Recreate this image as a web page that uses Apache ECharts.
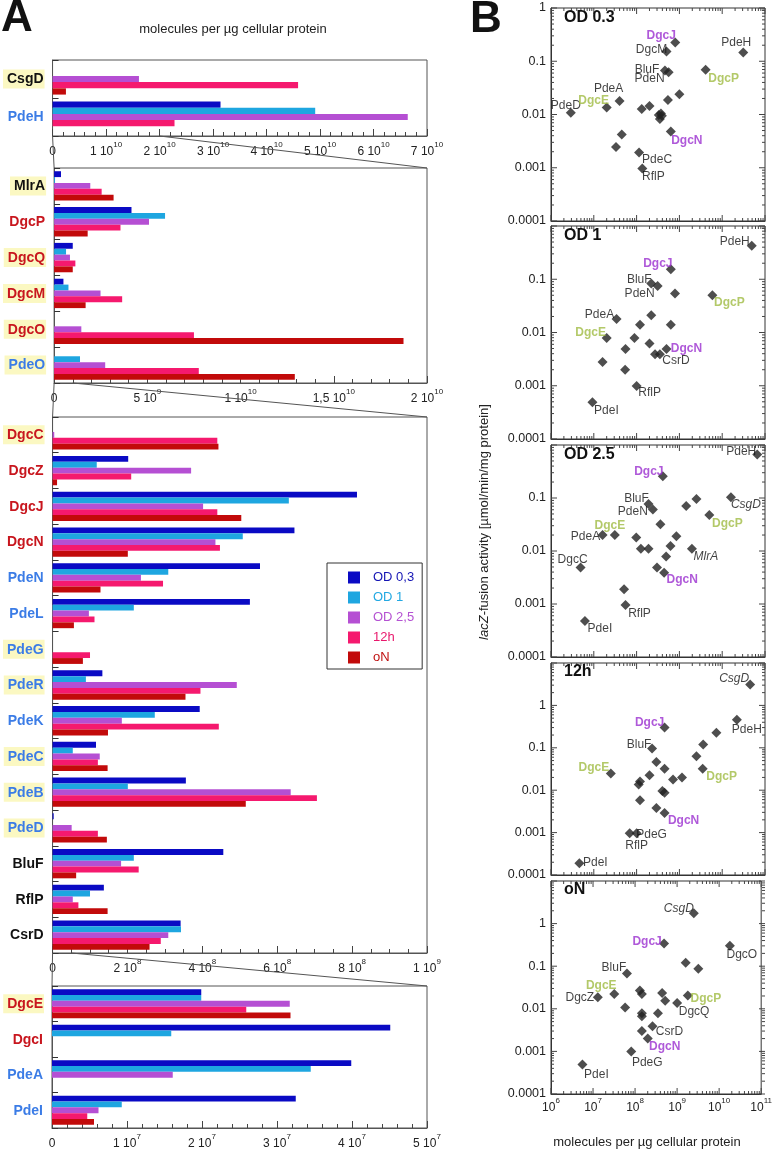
<!DOCTYPE html>
<html><head><meta charset="utf-8">
<script src="https://cdn.jsdelivr.net/npm/echarts@6/dist/echarts.min.js"></script>
<style>html,body{margin:0;padding:0;background:#fff}#c{width:775px;height:1151px}</style>
</head><body><div id="c"></div>
<script>
// ---------------- DATA ----------------
const seriesNames = ['OD 0,3', 'OD 1', 'OD 2,5', '12h', 'oN'];

// Panel A, section 1 (0 .. 7e10)
const sec1Cats = ['CsgD', 'PdeH'];
const sec1OD03 = [0, 3.14e10];
const sec1OD1  = [0, 4.91e10];
const sec1OD25 = [1.615e10, 6.64e10];
const sec112h  = [4.59e10, 2.28e10];
const sec1oN   = [0.25e10, 0];
const sec1Ticks = ['0', '1 10^10', '2 10^10', '3 10^10', '4 10^10', '5 10^10', '6 10^10', '7 10^10'];

// section 2 (0 .. 2e10)
const sec2Cats = ['MlrA', 'DgcP', 'DgcQ', 'DgcM', 'DgcO', 'PdeO'];
const sec2OD03 = [0.37e9, 4.15e9, 1.0e9, 0.5e9, 0, 0];
const sec2OD1  = [0.05e9, 5.95e9, 0.64e9, 0.77e9, 0, 1.39e9];
const sec2OD25 = [1.94e9, 5.09e9, 0.85e9, 2.49e9, 1.46e9, 2.74e9];
const sec212h  = [2.55e9, 3.56e9, 1.14e9, 3.65e9, 7.5e9, 7.76e9];
const sec2oN   = [3.19e9, 1.8e9, 1.0e9, 1.69e9, 18.74e9, 12.91e9];
const sec2Ticks = ['0', '5 10^9', '1 10^10', '1,5 10^10', '2 10^10'];

// section 3 (0 .. 1e9)
const sec3Cats = ['DgcC', 'DgcZ', 'DgcJ', 'DgcN', 'PdeN', 'PdeL', 'PdeG', 'PdeR', 'PdeK', 'PdeC', 'PdeB', 'PdeD', 'BluF', 'RflP', 'CsrD'];
const sec3OD03 = [0, 2.02e8, 8.13e8, 6.46e8, 5.54e8, 5.27e8, 0, 1.33e8, 3.93e8, 1.16e8, 3.56e8, 0.03e8, 4.56e8, 1.37e8, 3.42e8];
const sec3OD1  = [0, 1.18e8, 6.31e8, 5.08e8, 3.09e8, 2.17e8, 0, 0.89e8, 2.73e8, 0.54e8, 2.01e8, 0, 2.17e8, 1.0e8, 3.43e8];
const sec3OD25 = [0.045e8, 3.7e8, 4.02e8, 4.35e8, 2.36e8, 0.97e8, 0, 4.92e8, 1.85e8, 1.26e8, 6.36e8, 0.51e8, 1.83e8, 0.54e8, 3.09e8];
const sec312h  = [4.4e8, 2.1e8, 4.4e8, 4.47e8, 2.95e8, 1.12e8, 1.0e8, 3.95e8, 4.44e8, 1.21e8, 7.06e8, 1.21e8, 2.3e8, 0.69e8, 2.89e8];
const sec3oN   = [4.43e8, 0.12e8, 5.04e8, 2.01e8, 1.28e8, 0.57e8, 0.81e8, 3.55e8, 1.48e8, 1.47e8, 5.16e8, 1.45e8, 0.63e8, 1.47e8, 2.59e8];
const sec3Ticks = ['0', '2 10^8', '4 10^8', '6 10^8', '8 10^8', '1 10^9'];

// section 4 (0 .. 5e7)
const sec4Cats = ['DgcE', 'DgcI', 'PdeA', 'PdeI'];
const sec4OD03 = [1.99e7, 4.51e7, 3.99e7, 3.25e7];
const sec4OD1  = [1.99e7, 1.59e7, 3.45e7, 0.93e7];
const sec4OD25 = [3.17e7, 0, 1.61e7, 0.62e7];
const sec412h  = [2.59e7, 0, 0, 0.47e7];
const sec4oN   = [3.18e7, 0, 0, 0.56e7];
const sec4Ticks = ['0', '1 10^7', '2 10^7', '3 10^7', '4 10^7', '5 10^7'];

// Panel B scatter: [molecules per ug, lacZ activity, label]
const scOD03 = [[2.9e6,0.0108,'PdeD'],[2.0e7,0.0136,'DgcE'],[4.0e7,0.018,'PdeA'],[3.3e7,0.00245,''],[4.5e7,0.0042,''],
  [1.32e8,0.0127,''],[2.0e8,0.0145,''],[1.14e8,0.00193,'PdeC'],[1.36e8,0.00097,'RflP'],[3.3e8,0.0098,''],[3.9e8,0.0095,''],
  [3.5e8,0.0082,''],[3.7e8,0.0104,''],[5.0e8,0.153,'DgcM'],[8.0e8,0.225,'DgcJ'],[4.6e8,0.067,'BluF'],[5.6e8,0.062,'PdeN'],
  [5.4e8,0.0187,''],[1.0e9,0.024,''],[6.3e8,0.0048,'DgcN'],[4.1e9,0.069,'DgcP'],[3.1e10,0.146,'PdeH']];
const scOD1 = [[4.9e10,0.425,'PdeH'],[6.3e8,0.154,'DgcJ'],[2.2e8,0.083,'BluF'],[3.1e8,0.075,'PdeN'],[7.9e8,0.054,''],
  [5.9e9,0.05,'DgcP'],[3.4e7,0.018,'PdeA'],[2.0e7,0.0079,'DgcE'],[1.2e8,0.014,''],[2.2e8,0.021,''],[6.3e8,0.014,''],
  [8.9e7,0.0079,''],[5.5e7,0.0049,''],[2.0e8,0.0062,''],[2.7e8,0.0039,''],[3.5e8,0.0039,'CsrD'],[5.0e8,0.0049,'DgcN'],
  [1.6e7,0.0028,''],[5.4e7,0.0020,''],[1.0e8,0.00099,'RflP'],[9.3e6,0.00049,'PdeI']];
const scOD25 = [[6.6e10,0.665,'PdeH'],[4.1e8,0.258,'DgcJ'],[1.9e8,0.077,'BluF'],[2.4e8,0.061,'PdeN'],[3.6e8,0.032,''],
  [1.44e9,0.071,''],[2.5e9,0.096,''],[1.6e10,0.103,'CsgD'],[5.0e9,0.048,'DgcP'],[1.6e7,0.020,'PdeA'],[3.1e7,0.020,'DgcE'],
  [9.8e7,0.018,''],[1.26e8,0.011,''],[1.9e8,0.011,''],[8.5e8,0.019,''],[6.2e8,0.0124,''],[1.96e9,0.011,'MlrA'],
  [4.9e8,0.0079,''],[3.0e8,0.0049,''],[4.4e8,0.0039,'DgcN'],[4.9e6,0.0049,'DgcC'],[5.1e7,0.0019,''],[5.5e7,0.00096,'RflP'],
  [6.2e6,0.00048,'PdeI']];
const sc12h = [[4.5e10,3.1,'CsgD'],[2.2e10,0.46,'PdeH'],[7.3e9,0.227,''],[3.6e9,0.119,''],[2.5e9,0.063,''],[3.5e9,0.032,'DgcP'],
  [4.5e8,0.30,'DgcJ'],[2.3e8,0.096,'BluF'],[2.9e8,0.046,''],[4.5e8,0.032,''],[2.0e8,0.0225,''],[7.1e8,0.018,''],[1.15e9,0.020,''],
  [1.2e8,0.016,''],[1.12e8,0.0136,''],[4.0e8,0.0096,''],[4.5e8,0.0087,''],[1.2e8,0.0058,''],[2.9e8,0.0038,''],[4.5e8,0.0029,'DgcN'],
  [2.5e7,0.0246,'DgcE'],[6.9e7,0.00096,'RflP'],[1.0e8,0.00096,'PdeG'],[4.6e6,0.00019,'PdeI']];
const scON = [[2.5e9,1.74,'CsgD'],[4.9e8,0.34,'DgcJ'],[1.8e10,0.30,'DgcO'],[1.6e9,0.121,''],[3.2e9,0.087,''],[6.4e7,0.067,'BluF'],
  [3.2e7,0.0224,'DgcE'],[1.3e7,0.0187,'DgcZ'],[1.3e8,0.027,''],[1.45e8,0.0224,''],[4.4e8,0.0236,''],[5.2e8,0.0154,''],
  [1.0e9,0.0136,'DgcQ'],[1.8e9,0.0205,'DgcP'],[5.8e7,0.0107,''],[1.45e8,0.0079,''],[1.45e8,0.0067,''],[3.5e8,0.0079,''],
  [2.6e8,0.0039,'CsrD'],[1.45e8,0.0030,''],[2.0e8,0.0020,'DgcN'],[8.1e7,0.001,'PdeG'],[5.6e6,0.00049,'PdeI']];

const scXTicks = ['10^6', '10^7', '10^8', '10^9', '10^10', '10^11'];
const scYTicks = ['0.0001', '0.001', '0.01', '0.1', '1', '10'];
const scTitles = ['OD 0.3', 'OD 1', 'OD 2.5', '12h', 'oN'];

// ---------------- STYLE / LAYOUT ----------------
const FONT = '"Liberation Sans", Arial, sans-serif';
const barColors = ['#0a0ac4', '#1ea6e0', '#b54fd3', '#f5196e', '#c20a0a'];
const legendColors = ['#1414b4', '#22a8e2', '#b451d2', '#e8186c', '#c01010'];
const highlighted = ['CsgD','MlrA','DgcQ','DgcM','DgcO','PdeO','DgcC','PdeG','PdeR','PdeC','PdeB','PdeD','DgcE'];
const barGrids = [[60, 76], [168, 215], [417, 536], [986, 142]];
const barLeft = 52, barWidth = 375;
const scGrids = [[8, 213], [226, 213], [445, 212], [663, 212], [881, 213]];
const scLeft = 551, scWidth = 214;
const scYMaxExp = [0, 0, 0, 1, 1];
const scShowTop = [true, false, false, false, false];
const purpleNames = ['DgcJ', 'DgcN'], greenNames = ['DgcE', 'DgcP'], italicNames = ['CsgD', 'MlrA'];
const labelOffsets = [
  {PdeD:[-5,-7], DgcE:[-13,-7], PdeA:[-11,-12], PdeC:[18,7], RflP:[11,8], DgcM:[-15,-2], DgcJ:[-14,-7], BluF:[-18,-1], PdeN:[-19,6], DgcN:[16,9], DgcP:[18,9], PdeH:[-7,-10]},
  {PdeH:[-17,-4], DgcJ:[-13,-6], BluF:[-12,-4], PdeN:[-18,8], DgcP:[17,7], PdeA:[-17,-4], DgcE:[-16,-5], DgcN:[20,0], CsrD:[16,6], RflP:[13,7], PdeI:[14,8]},
  {PdeH:[-16,-3], DgcJ:[-14,-4], BluF:[-12,-5], PdeN:[-20,2], CsgD:[15,7], DgcP:[18,9], DgcE:[-5,-9], PdeA:[-17,2], MlrA:[14,8], DgcN:[18,7], DgcC:[-8,-8], RflP:[14,9], PdeI:[15,8]},
  {CsgD:[-16,-6], PdeH:[10,10], DgcJ:[-15,-5], BluF:[-13,-4], DgcE:[-17,-6], DgcP:[19,8], DgcN:[19,8], PdeG:[15,1], RflP:[7,12], PdeI:[16,0]},
  {CsgD:[-15,-5], DgcJ:[-17,-2], DgcO:[12,9], BluF:[-13,-6], DgcE:[-13,-8], DgcZ:[-18,0], DgcP:[18,3], DgcQ:[17,9], CsrD:[17,5], DgcN:[17,8], PdeG:[16,11], PdeI:[14,10]}
];

const sections = [
  {cats: sec1Cats, vals: [sec1OD03, sec1OD1, sec1OD25, sec112h, sec1oN], ticks: sec1Ticks, max: 7e10, interval: 1e10, minor: 5},
  {cats: sec2Cats, vals: [sec2OD03, sec2OD1, sec2OD25, sec212h, sec2oN], ticks: sec2Ticks, max: 2e10, interval: 5e9, minor: 5},
  {cats: sec3Cats, vals: [sec3OD03, sec3OD1, sec3OD25, sec312h, sec3oN], ticks: sec3Ticks, max: 1e9, interval: 2e8, minor: 4},
  {cats: sec4Cats, vals: [sec4OD03, sec4OD1, sec4OD25, sec412h, sec4oN], ticks: sec4Ticks, max: 5e7, interval: 1e7, minor: 5}
];
const scData = [scOD03, scOD1, scOD25, sc12h, scON];

function sciRich(s) {
  if (!s) return '';
  const p = s.split('^');
  return p.length > 1 ? '{b|' + p[0] + '}{s|' + p[1] + '}' : '{b|' + p[0] + '}';
}
const sciRichStyle = {
  b: {fontSize: 12, color: '#222', fontFamily: FONT, lineHeight: 17, verticalAlign: 'bottom'},
  s: {fontSize: 8, color: '#222', fontFamily: FONT, lineHeight: 9, verticalAlign: 'top'}
};
const catColors = {r: '#c8161e', b: '#3b7ce6', k: '#111'};
const catRich = {};
['r', 'b', 'k'].forEach(t => {
  ['h', 'n'].forEach(h => {
    catRich[h + t] = {color: catColors[t], fontSize: 14, fontWeight: 'bold', fontFamily: FONT,
      padding: [3, 1, 2, 4], backgroundColor: h === 'h' ? '#fbf8c2' : 'transparent'};
  });
});
function catKey(n) {
  const t = n.indexOf('Dgc') === 0 ? 'r' : (n.indexOf('Pde') === 0 ? 'b' : 'k');
  return (highlighted.indexOf(n) >= 0 ? 'h' : 'n') + t;
}

const grid = [], xAxis = [], yAxis = [], series = [];
sections.forEach((sec, i) => {
  grid.push({left: barLeft, width: barWidth, top: barGrids[i][0], height: barGrids[i][1],
    show: true, borderColor: '#555', borderWidth: 1, backgroundColor: 'transparent'});
  xAxis.push({type: 'value', gridIndex: i, min: 0, max: sec.max, interval: sec.interval,
    axisLine: {show: true, lineStyle: {color: '#555'}},
    axisTick: {show: true, inside: true, length: 7, lineStyle: {color: '#444'}},
    minorTick: {show: true, splitNumber: sec.minor, length: 4, lineStyle: {color: '#444'}},
    splitLine: {show: false}, minorSplitLine: {show: false},
    axisLabel: {margin: 5, formatter: v => sciRich(sec.ticks[Math.round(v / sec.interval)]), rich: sciRichStyle}});
  yAxis.push({type: 'category', gridIndex: i, data: sec.cats, inverse: true,
    axisLine: {show: true, lineStyle: {color: '#555'}},
    axisTick: {show: true, inside: true, length: 6, interval: 0, lineStyle: {color: '#333'}},
    axisLabel: {margin: 8, interval: 0, formatter: v => '{' + catKey(v) + '|' + v + '}', rich: catRich}});
  sec.vals.forEach((arr, j) => {
    series.push({type: 'bar', name: seriesNames[j], xAxisIndex: i, yAxisIndex: i, data: arr,
      itemStyle: {color: barColors[j]}, barGap: '0%', barCategoryGap: '18%', silent: true, animation: false});
  });
});

function labelFor(k, nm) {
  const off = labelOffsets[k][nm] || [0, -10];
  let st = {color: '#111', fontWeight: 'normal', fontStyle: 'normal'};
  if (purpleNames.indexOf(nm) >= 0) st = {color: '#9b2fd0', fontWeight: 'bold', fontStyle: 'normal'};
  else if (greenNames.indexOf(nm) >= 0) st = {color: '#a0bb44', fontWeight: 'bold', fontStyle: 'normal'};
  else if (italicNames.indexOf(nm) >= 0) st = {color: '#111', fontWeight: 'normal', fontStyle: 'italic'};
  return Object.assign({show: true, position: 'inside', offset: off, formatter: nm, fontSize: 12, fontFamily: FONT}, st);
}

scData.forEach((arr, k) => {
  const gi = 4 + k;
  grid.push({left: scLeft, width: scWidth, top: scGrids[k][0], height: scGrids[k][1],
    show: true, borderColor: '#333', borderWidth: 1, backgroundColor: 'transparent'});
  xAxis.push({type: 'log', logBase: 10, gridIndex: gi, min: 1e6, max: 1e11,
    axisLine: {show: true, lineStyle: {color: '#333'}}, axisTick: {show: false}, splitLine: {show: false},
    axisLabel: {show: k === 4, margin: 3,
      formatter: v => sciRich(scXTicks[Math.round(Math.log10(v)) - 6]), rich: sciRichStyle}});
  const topE = scYMaxExp[k], showTop = scShowTop[k];
  yAxis.push({type: 'log', logBase: 10, gridIndex: gi, min: 1e-4, max: Math.pow(10, topE),
    axisLine: {show: true, lineStyle: {color: '#333'}}, axisTick: {show: false}, splitLine: {show: false},
    axisLabel: {margin: 5, fontSize: 12.5, color: '#222', fontFamily: FONT,
      formatter: v => { const e = Math.round(Math.log10(v)); if (e === topE && !showTop) return ''; return scYTicks[e + 4] || ''; }}});
  series.push({type: 'scatter', xAxisIndex: gi, yAxisIndex: gi, symbol: 'diamond', symbolSize: 10,
    itemStyle: {color: '#222'}, silent: true, animation: false, z: 5,
    data: arr.map(d => ({value: [d[0], d[1]], name: d[2], label: d[2] ? labelFor(k, d[2]) : {show: false}}))});
});

const chart = echarts.init(document.getElementById('c'));
chart.setOption({
  animation: false,
  backgroundColor: '#fff',
  textStyle: {fontFamily: FONT},
  grid, xAxis, yAxis, series,
  legend: {orient: 'vertical', left: 327, top: 563, icon: 'rect', itemWidth: 12, itemHeight: 12, itemGap: 7,
    padding: [8, 8, 5, 21], borderColor: '#333', borderWidth: 1, backgroundColor: '#fff', selectedMode: false,
    textStyle: {fontSize: 13, fontFamily: FONT, padding: [0, 0, 0, 8]},
    data: seriesNames.map((n, i) => ({name: n, textStyle: {color: legendColors[i]}}))}
});

// ---------- decorations (computed from axes) ----------
const g = [];
function xPx(ax, v) { return chart.convertToPixel({xAxisIndex: ax}, v); }
function yPx(ax, v) { return chart.convertToPixel({yAxisIndex: ax}, v); }
function ln(x1, y1, x2, y2, c) { g.push({type: 'line', silent: true, z: 10, shape: {x1, y1, x2, y2}, style: {stroke: c || '#444', lineWidth: 1}}); }

// zoom connectors between bar sections
[[0, 1, 0], [0, 1, 2e10], [1, 2, 0], [1, 2, 1e9], [2, 3, 0], [2, 3, 5e7]].forEach(([a, b, v]) => {
  ln(xPx(a, v), barGrids[a][0] + barGrids[a][1], xPx(b, v), barGrids[b][0], '#555');
});

// log ticks on all four sides of scatter panels
scGrids.forEach((gr, k) => {
  const ax = 4 + k, top = gr[0], bot = gr[0] + gr[1], L = scLeft, R = scLeft + scWidth;
  for (let e = 6; e <= 11; e++) {
    for (let m = 1; m <= 9; m++) {
      if (e === 11 && m > 1) break;
      const x = xPx(ax, m * Math.pow(10, e)), len = m === 1 ? 6 : 3;
      ln(x, bot, x, bot - len); ln(x, top, x, top + len);
    }
  }
  for (let e = -4; e <= scYMaxExp[k]; e++) {
    for (let m = 1; m <= 9; m++) {
      if (e === scYMaxExp[k] && m > 1) break;
      const y = yPx(ax, m * Math.pow(10, e)), len = m === 1 ? 6 : 3;
      ln(L, y, L + len, y); ln(R, y, R - len, y);
    }
  }
});

function txt(x, y, text, o) {
  g.push({type: 'text', x, y, silent: true, z: 20, rotation: (o && o.rotation) || 0,
    style: Object.assign({text, fill: '#111', fontFamily: FONT, fontSize: 13, textAlign: 'center', textVerticalAlign: 'middle'}, (o && o.style) || {})});
}
txt(17, 19, 'A', {style: {fontSize: 44, fontWeight: 'bold'}});
txt(486, 20, 'B', {style: {fontSize: 44, fontWeight: 'bold'}});
txt(233, 29, 'molecules per µg cellular protein', {style: {fill: '#222'}});
txt(647, 1142, 'molecules per µg cellular protein', {style: {fill: '#222'}});
const titleY = [18, 236, 455, 672, 890];
scTitles.forEach((t, k) => txt(564, titleY[k], t, {style: {fontSize: 16, fontWeight: 'bold', textAlign: 'left'}}));
g.push({type: 'text', x: 484, y: 522, rotation: Math.PI / 2, silent: true, z: 20,
  style: {text: '{i|lacZ}-fusion activity [µmol/min/mg protein]', fill: '#222', fontFamily: FONT, fontSize: 13,
    textAlign: 'center', textVerticalAlign: 'middle',
    rich: {i: {fontStyle: 'italic', fontSize: 13, fontFamily: FONT, fill: '#222', color: '#222'}}}});

chart.setOption({graphic: {elements: g}});
</script></body></html>
